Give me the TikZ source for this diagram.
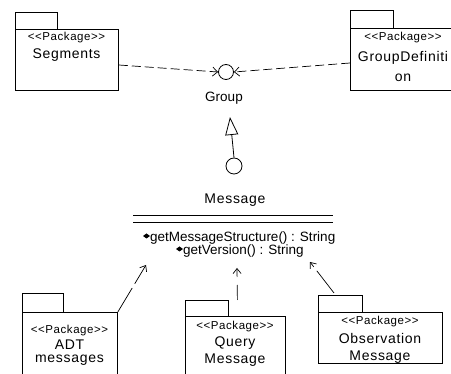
\documentclass[tikz,border=0pt]{standalone}
\usepackage{fontspec}
\setmainfont{Liberation Sans}
\newfontfamily\stfont[LetterSpace=5]{Liberation Sans}
\newfontfamily\nmfont[LetterSpace=5]{Liberation Sans}
\usetikzlibrary{arrows.meta,calc}
\begin{document}
\begin{tikzpicture}[x=1pt,y=-1pt,
  pkgbody/.style={draw, line width=0.8pt, inner sep=0pt, anchor=north west},
  pkgtab/.style={draw, line width=0.8pt},
  ster/.style={font=\stfont\fontsize{11.5}{13}\selectfont, inner sep=0pt},
  pname/.style={font=\nmfont\fontsize{14}{16}\selectfont, inner sep=0pt, align=center},
  opstyle/.style={font=\fontsize{13.5}{15}\selectfont, inner sep=0pt, anchor=west},
  dep/.style={draw, line width=0.7pt, dash pattern=on 9pt off 4pt, -{Straight Barb[length=5pt,width=9pt]}},
  depb/.style={draw, line width=0.7pt, dash pattern=on 28pt off 5pt, -{Straight Barb[length=5pt,width=8pt]}},
  iface/.style={draw, circle, line width=0.8pt, inner sep=0pt},
  opdia/.style={fill=black}
]
\useasboundingbox (0,0) rectangle (451,374);

% ---------- Segments package
\node[pkgbody, minimum width=103pt, minimum height=61pt] (seg) at (15,29) {};
\draw[pkgtab] (seg.north west) rectangle ++(42,-17);
\node[ster] (segst) at (66.5,38) {<{}<Package>{}>};
\node[pname] (segnm) at (66.5,55) {Segments};

% ---------- GroupDefinition package
\node[pkgbody, minimum width=105pt, minimum height=62pt] (gdef) at (350,28) {};
\draw[pkgtab] (gdef.north west) rectangle ++(43,-18);
\node[ster] (gdst) at (403,38) {<{}<Package>{}>};
\node[pname] (gdnm1) at (403,58) {GroupDefiniti};
\node[pname] (gdnm2) at (403,78) {on};

% ---------- Group interface
\node[iface, minimum size=15pt] (grp) at (226,72) {};
\node[font=\fontsize{13.5}{15}\selectfont, inner sep=0pt] (grplbl) at (224,98) {Group};
\draw[dep] (seg.east |- 0,65) -- (grp.west);
\draw[dep] (gdef.west |- 0,63) -- (grp.east);

% ---------- generalization to Group
\node[iface, minimum size=16pt] (lol) at (234,166) {};
\coordinate (tri) at (230,117);
\draw[line width=0.8pt, -{Triangle[open, length=18pt, width=13pt]}] (lol.north) -- (tri);

% ---------- Message class
\node[font=\nmfont\fontsize{14}{16}\selectfont, inner sep=0pt] (msg) at (235,200) {Message};
\coordinate (cl) at (133,215);
\coordinate (cr) at (333,215);
\draw[line width=0.8pt] (cl) -- (cr);
\draw[line width=0.8pt] ($(cl)+(0,7)$) -- ($(cr)+(0,7)$);
\node[opstyle] (op1) at (150,238) {getMessageStructure() : String};
\node[opstyle] (op2) at (183,251) {getVersion() : String};
\fill[opdia] ($(op1.west)+(-7,-2)$) -- ++(3.5,-2.5) -- ++(3.5,2.5) -- ++(-3.5,2.5) -- cycle;
\fill[opdia] ($(op2.west)+(-7,-2)$) -- ++(3.5,-2.5) -- ++(3.5,2.5) -- ++(-3.5,2.5) -- cycle;

% ---------- bottom packages
\node[pkgbody, minimum width=95pt, minimum height=64pt] (adt) at (22,312) {};
\draw[pkgtab] (adt.north west) rectangle ++(41,-19);
\node[ster] (adtst) at (69.5,331) {<{}<Package>{}>};
\node[pname] (adtnm1) at (69.5,345) {ADT};
\node[pname] (adtnm2) at (69.5,360) {messages};

\node[pkgbody, minimum width=100pt, minimum height=62pt] (qry) at (185,316) {};
\draw[pkgtab] (qry.north west) rectangle ++(43,-16);
\node[ster] (qst) at (235,327) {<{}<Package>{}>};
\node[pname] (qnm1) at (235,343) {Query};
\node[pname] (qnm2) at (235,360) {Message};

\node[pkgbody, minimum width=124pt, minimum height=51pt] (obs) at (318,312) {};
\draw[pkgtab] (obs.north west) rectangle ++(44,-17);
\node[ster] (ost) at (380,322) {<{}<Package>{}>};
\node[pname] (onm1) at (380,338) {Observation};
\node[pname] (onm2) at (380,357) {Message};

% ---------- dependencies to Message
\coordinate (tadt) at (146,265);
\coordinate (tq) at (237,268);
\coordinate (tobs) at (310,262);
\draw[depb] (adt.north east) -- (tadt);
\draw[depb, dash pattern=on 15pt off 8pt] ($(qry.north)+(2,-16)$) -- (tq);
\draw[depb] ($(obs.north west)+(16,-19)$) -- (tobs);
\end{tikzpicture}
\end{document}
